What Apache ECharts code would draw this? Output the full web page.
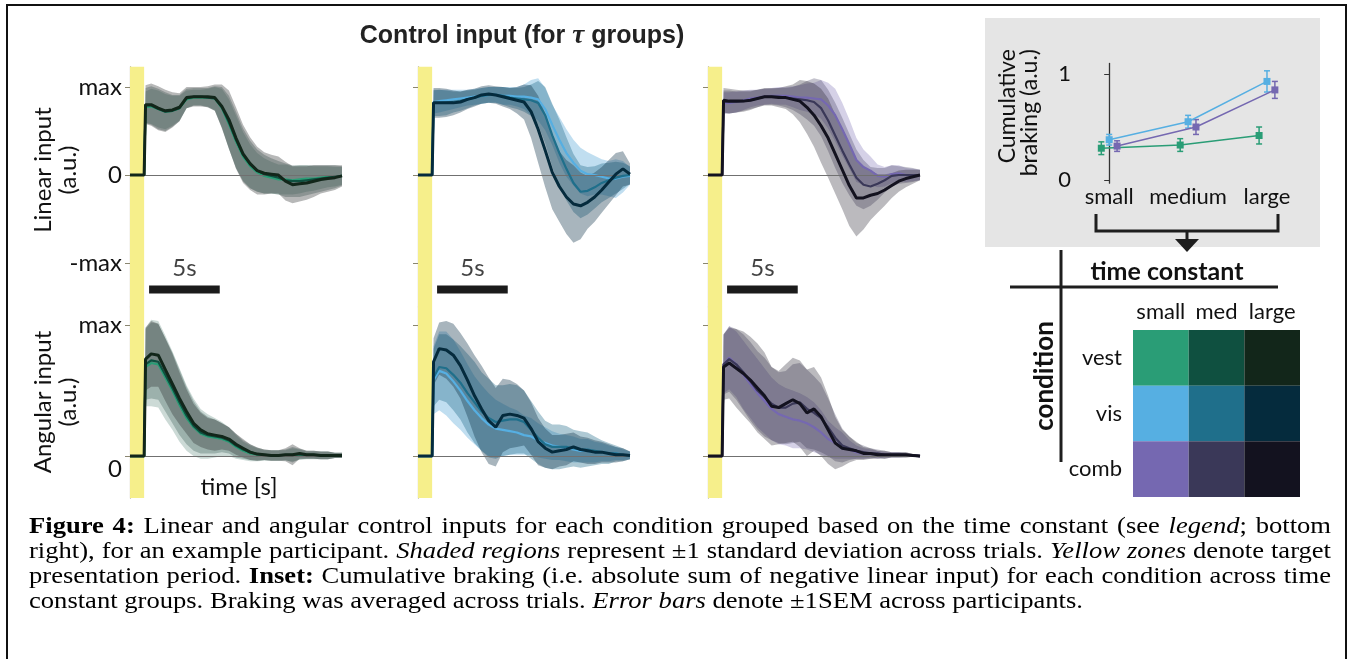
<!DOCTYPE html>
<html>
<head>
<meta charset="utf-8">
<script src="https://cdn.jsdelivr.net/npm/echarts@6/dist/echarts.min.js"></script>
<style>
  html, body { margin: 0; padding: 0; background: #fff; }
  #chart { position: absolute; left: 0; top: 0; width: 1353px; height: 659px; }
  #frame { position: absolute; left: 6px; top: 4px; width: 1341px; height: 700px;
           border: 2px solid #111; box-sizing: border-box; pointer-events: none; }
  .cap { position: absolute; left: 29px; font-family: 'Liberation Serif', 'Times New Roman', serif;
         font-size: 23px; line-height: 25px; white-space: nowrap; color: #000; transform-origin: 0 0; }
</style>
</head>
<body>
<div id="chart"></div>
<div id="frame"></div>
<div class="cap" style="top:513px" data-w="1302"><b>Figure 4:</b> Linear and angular control inputs for each condition grouped based on the time constant (see <i>legend</i>; bottom</div>
<div class="cap" style="top:538px" data-w="1302">right), for an example participant. <i>Shaded regions</i> represent ±1 standard deviation across trials. <i>Yellow zones</i> denote target</div>
<div class="cap" style="top:563px" data-w="1302">presentation period. <b>Inset:</b> Cumulative braking (i.e. absolute sum of negative linear input) for each condition across time</div>
<div class="cap" style="top:588px" data-w="1054">constant groups. Braking was averaged across trials. <i>Error bars</i> denote ±1SEM across participants.</div>
<script>
// ---------------------------------------------------------------------------
// Time base (s) shared by every trace
const T = [0, 1, 1.1, 1.5, 2, 2.5, 3, 3.5, 4, 4.5, 5, 5.5, 6, 6.5, 7, 7.5, 8, 8.5, 9, 9.5,
           10, 10.5, 11, 11.5, 12, 12.5, 13, 13.5, 14, 14.5, 15];
const TARGET_END = 1;          // target presentation period ends (s)

// Linear control input (fraction of max), mean per time-constant group
const linVestSmall = [0, 0, 0.77, 0.78, 0.75, 0.72, 0.73, 0.76, 0.86, 0.88, 0.88, 0.88, 0.87, 0.76, 0.58, 0.38, 0.21, 0.10, 0.03, -0.01, -0.03, -0.05, -0.05, -0.06, -0.05, -0.04, -0.04, -0.03, -0.02, -0.02, -0.01];
const linVestMed   = [0, 0, 0.79, 0.79, 0.75, 0.72, 0.73, 0.76, 0.87, 0.89, 0.89, 0.88, 0.87, 0.77, 0.60, 0.40, 0.23, 0.12, 0.05, 0.01, -0.01, -0.03, -0.06, -0.07, -0.07, -0.06, -0.05, -0.04, -0.03, -0.02, -0.01];
const linVestLarge = [0, 0, 0.80, 0.80, 0.76, 0.73, 0.74, 0.77, 0.88, 0.89, 0.89, 0.89, 0.88, 0.78, 0.63, 0.42, 0.24, 0.13, 0.05, 0.02, 0.01, 0.00, -0.07, -0.11, -0.10, -0.09, -0.07, -0.05, -0.04, -0.03, -0.01];
const linVisSmall  = [0, 0, 0.83, 0.84, 0.85, 0.86, 0.87, 0.88, 0.89, 0.90, 0.91, 0.91, 0.90, 0.90, 0.89, 0.89, 0.88, 0.86, 0.75, 0.57, 0.40, 0.25, 0.14, 0.05, 0.01, 0.00, -0.02, -0.04, -0.04, -0.02, -0.01];
const linVisMed    = [0, 0, 0.82, 0.82, 0.82, 0.83, 0.84, 0.86, 0.88, 0.90, 0.91, 0.91, 0.90, 0.88, 0.87, 0.86, 0.85, 0.82, 0.68, 0.45, 0.25, 0.07, -0.09, -0.19, -0.18, -0.14, -0.09, -0.06, -0.03, -0.01, 0.00];
const linVisLarge  = [0, 0, 0.82, 0.82, 0.82, 0.82, 0.83, 0.86, 0.88, 0.91, 0.92, 0.91, 0.89, 0.87, 0.85, 0.83, 0.72, 0.52, 0.28, 0.03, -0.13, -0.25, -0.33, -0.35, -0.31, -0.25, -0.17, -0.08, 0.01, 0.07, 0.01];
const linCombSmall = [0, 0, 0.82, 0.82, 0.83, 0.85, 0.87, 0.88, 0.89, 0.90, 0.90, 0.90, 0.89, 0.88, 0.88, 0.87, 0.86, 0.79, 0.68, 0.52, 0.35, 0.17, 0.09, 0.05, -0.01, -0.02, 0.01, 0.02, 0.00, 0.00, 0.00];
const linCombMed   = [0, 0, 0.83, 0.83, 0.83, 0.84, 0.85, 0.87, 0.89, 0.89, 0.89, 0.88, 0.87, 0.86, 0.85, 0.83, 0.76, 0.62, 0.45, 0.28, 0.12, -0.03, -0.11, -0.13, -0.10, -0.06, -0.01, 0.00, 0.00, 0.00, 0.00];
const linCombLarge = [0, 0, 0.85, 0.84, 0.84, 0.84, 0.85, 0.87, 0.89, 0.89, 0.88, 0.88, 0.86, 0.84, 0.77, 0.68, 0.56, 0.42, 0.24, 0.06, -0.12, -0.26, -0.26, -0.23, -0.21, -0.17, -0.12, -0.07, -0.04, -0.02, 0.00];

// Linear control input, standard deviation across trials
const sdLinVestSmall = [0, 0, 0.18, 0.20, 0.21, 0.20, 0.17, 0.14, 0.10, 0.09, 0.09, 0.10, 0.13, 0.22, 0.28, 0.30, 0.28, 0.25, 0.22, 0.20, 0.18, 0.17, 0.17, 0.16, 0.16, 0.15, 0.14, 0.13, 0.12, 0.11, 0.10];
const sdLinVestMed   = [0, 0, 0.20, 0.22, 0.23, 0.22, 0.18, 0.15, 0.11, 0.10, 0.10, 0.11, 0.14, 0.23, 0.30, 0.32, 0.30, 0.27, 0.24, 0.22, 0.20, 0.19, 0.19, 0.18, 0.18, 0.17, 0.16, 0.15, 0.14, 0.13, 0.11];
const sdLinVestLarge = [0, 0, 0.22, 0.24, 0.25, 0.24, 0.20, 0.16, 0.12, 0.11, 0.11, 0.12, 0.15, 0.25, 0.33, 0.35, 0.33, 0.30, 0.27, 0.24, 0.22, 0.21, 0.22, 0.21, 0.20, 0.19, 0.18, 0.16, 0.15, 0.14, 0.12];
const sdLinVisSmall  = [0, 0, 0.13, 0.13, 0.12, 0.11, 0.10, 0.09, 0.09, 0.09, 0.09, 0.09, 0.10, 0.10, 0.11, 0.14, 0.20, 0.24, 0.24, 0.23, 0.26, 0.27, 0.26, 0.26, 0.25, 0.22, 0.20, 0.20, 0.22, 0.18, 0.10];
const sdLinVisMed    = [0, 0, 0.15, 0.15, 0.14, 0.12, 0.11, 0.10, 0.09, 0.09, 0.09, 0.09, 0.10, 0.11, 0.12, 0.14, 0.18, 0.25, 0.32, 0.36, 0.38, 0.36, 0.33, 0.30, 0.27, 0.24, 0.22, 0.20, 0.18, 0.15, 0.10];
const sdLinVisLarge  = [0, 0, 0.17, 0.17, 0.16, 0.14, 0.12, 0.11, 0.10, 0.10, 0.10, 0.10, 0.11, 0.12, 0.15, 0.20, 0.30, 0.38, 0.42, 0.42, 0.40, 0.42, 0.44, 0.38, 0.30, 0.28, 0.26, 0.25, 0.24, 0.20, 0.12];
const sdLinCombSmall = [0, 0, 0.12, 0.12, 0.12, 0.11, 0.10, 0.09, 0.09, 0.09, 0.10, 0.10, 0.12, 0.14, 0.16, 0.18, 0.22, 0.26, 0.30, 0.30, 0.28, 0.25, 0.20, 0.16, 0.13, 0.11, 0.10, 0.09, 0.08, 0.07, 0.06];
const sdLinCombMed   = [0, 0, 0.13, 0.13, 0.12, 0.11, 0.10, 0.10, 0.09, 0.09, 0.10, 0.11, 0.13, 0.17, 0.22, 0.27, 0.32, 0.35, 0.37, 0.37, 0.35, 0.32, 0.28, 0.22, 0.18, 0.14, 0.12, 0.10, 0.09, 0.08, 0.06];
const sdLinCombLarge = [0, 0, 0.14, 0.14, 0.13, 0.12, 0.11, 0.10, 0.10, 0.10, 0.11, 0.13, 0.17, 0.24, 0.30, 0.36, 0.42, 0.45, 0.45, 0.45, 0.46, 0.44, 0.36, 0.28, 0.22, 0.18, 0.14, 0.12, 0.10, 0.08, 0.06];

// Angular control input (fraction of max), mean per time-constant group
const angVestSmall = [0, 0, 0.68, 0.71, 0.70, 0.60, 0.50, 0.39, 0.29, 0.22, 0.17, 0.15, 0.14, 0.13, 0.11, 0.07, 0.04, 0.02, 0.01, 0.005, 0.005, 0.005, 0.005, 0.01, 0.01, 0.005, 0.005, 0.005, 0.005, 0.005, 0.005];
const angVestMed   = [0, 0, 0.70, 0.73, 0.72, 0.62, 0.52, 0.41, 0.31, 0.23, 0.18, 0.16, 0.15, 0.14, 0.12, 0.08, 0.05, 0.03, 0.015, 0.01, 0.005, 0.005, 0.01, 0.01, 0.015, 0.01, 0.01, 0.005, 0.005, 0.005, 0.005];
const angVestLarge = [0, 0, 0.74, 0.78, 0.77, 0.66, 0.55, 0.44, 0.34, 0.25, 0.20, 0.17, 0.16, 0.15, 0.13, 0.09, 0.06, 0.03, 0.015, 0.01, 0.005, 0.005, 0.01, 0.01, 0.02, 0.01, 0.01, 0.005, 0.005, 0.005, 0.005];
const angVisSmall  = [0, 0, 0.58, 0.65, 0.63, 0.57, 0.50, 0.42, 0.35, 0.29, 0.24, 0.21, 0.20, 0.19, 0.18, 0.16, 0.15, 0.12, 0.10, 0.08, 0.07, 0.06, 0.05, 0.04, 0.04, 0.03, 0.03, 0.02, 0.02, 0.01, 0.005];
const angVisMed    = [0, 0, 0.60, 0.68, 0.67, 0.62, 0.56, 0.48, 0.41, 0.34, 0.29, 0.26, 0.27, 0.28, 0.28, 0.26, 0.20, 0.14, 0.09, 0.07, 0.07, 0.07, 0.06, 0.05, 0.05, 0.04, 0.03, 0.02, 0.02, 0.01, 0.005];
const angVisLarge  = [0, 0, 0.72, 0.82, 0.81, 0.77, 0.69, 0.58, 0.46, 0.36, 0.27, 0.22, 0.31, 0.32, 0.31, 0.29, 0.21, 0.11, 0.06, 0.03, 0.04, 0.05, 0.07, 0.05, 0.04, 0.03, 0.03, 0.02, 0.01, 0.01, 0.005];
const angCombSmall = [0, 0, 0.70, 0.75, 0.70, 0.62, 0.55, 0.48, 0.42, 0.36, 0.32, 0.30, 0.28, 0.27, 0.25, 0.22, 0.18, 0.13, 0.10, 0.08, 0.05, 0.03, 0.02, 0.02, 0.01, 0.01, 0.01, 0.01, 0.005, 0.005, 0.00];
const angCombMed   = [0, 0, 0.70, 0.74, 0.70, 0.64, 0.57, 0.50, 0.45, 0.40, 0.37, 0.37, 0.40, 0.41, 0.36, 0.33, 0.29, 0.22, 0.14, 0.08, 0.06, 0.04, 0.03, 0.02, 0.02, 0.01, 0.01, 0.01, 0.01, 0.005, 0.00];
const angCombLarge = [0, 0, 0.68, 0.71, 0.67, 0.63, 0.58, 0.52, 0.46, 0.38, 0.37, 0.40, 0.43, 0.40, 0.33, 0.36, 0.30, 0.20, 0.10, 0.06, 0.05, 0.04, 0.02, 0.02, 0.01, 0.01, 0.01, 0.01, 0.01, 0.005, 0.00];

// Angular control input, standard deviation across trials
const sdAngVestSmall = [0, 0, 0.30, 0.33, 0.33, 0.32, 0.30, 0.28, 0.25, 0.22, 0.19, 0.17, 0.15, 0.13, 0.11, 0.09, 0.07, 0.06, 0.05, 0.04, 0.04, 0.04, 0.04, 0.05, 0.04, 0.03, 0.03, 0.03, 0.03, 0.02, 0.02];
const sdAngVestMed   = [0, 0, 0.27, 0.29, 0.29, 0.28, 0.27, 0.25, 0.22, 0.19, 0.16, 0.14, 0.13, 0.11, 0.10, 0.09, 0.07, 0.06, 0.05, 0.04, 0.04, 0.04, 0.04, 0.06, 0.04, 0.03, 0.03, 0.03, 0.03, 0.02, 0.02];
const sdAngVestLarge = [0, 0, 0.24, 0.25, 0.24, 0.24, 0.23, 0.20, 0.17, 0.15, 0.13, 0.12, 0.12, 0.10, 0.09, 0.08, 0.07, 0.06, 0.05, 0.04, 0.04, 0.04, 0.05, 0.08, 0.04, 0.03, 0.03, 0.03, 0.03, 0.02, 0.02];
const sdAngVisSmall  = [0, 0, 0.26, 0.30, 0.32, 0.32, 0.30, 0.28, 0.26, 0.25, 0.24, 0.22, 0.20, 0.18, 0.17, 0.15, 0.14, 0.13, 0.12, 0.11, 0.10, 0.10, 0.10, 0.09, 0.09, 0.08, 0.07, 0.06, 0.05, 0.04, 0.03];
const sdAngVisMed    = [0, 0, 0.22, 0.25, 0.26, 0.27, 0.28, 0.30, 0.31, 0.30, 0.30, 0.28, 0.27, 0.27, 0.26, 0.24, 0.22, 0.20, 0.18, 0.17, 0.17, 0.16, 0.14, 0.14, 0.13, 0.11, 0.09, 0.08, 0.06, 0.05, 0.03];
const sdAngVisLarge  = [0, 0, 0.18, 0.20, 0.22, 0.24, 0.25, 0.28, 0.31, 0.33, 0.33, 0.30, 0.28, 0.26, 0.24, 0.21, 0.20, 0.18, 0.15, 0.13, 0.12, 0.12, 0.11, 0.10, 0.10, 0.09, 0.08, 0.07, 0.06, 0.05, 0.03];
const sdAngCombSmall = [0, 0, 0.22, 0.24, 0.25, 0.26, 0.26, 0.26, 0.25, 0.24, 0.23, 0.22, 0.22, 0.21, 0.20, 0.19, 0.17, 0.14, 0.12, 0.10, 0.07, 0.05, 0.04, 0.03, 0.03, 0.02, 0.02, 0.02, 0.01, 0.01, 0.01];
const sdAngCombMed   = [0, 0, 0.23, 0.25, 0.27, 0.29, 0.30, 0.30, 0.30, 0.28, 0.27, 0.28, 0.30, 0.30, 0.30, 0.28, 0.26, 0.22, 0.18, 0.13, 0.09, 0.06, 0.05, 0.04, 0.03, 0.03, 0.02, 0.02, 0.02, 0.01, 0.01];
const sdAngCombLarge = [0, 0, 0.25, 0.27, 0.30, 0.32, 0.33, 0.34, 0.33, 0.30, 0.28, 0.30, 0.32, 0.33, 0.33, 0.32, 0.30, 0.26, 0.20, 0.14, 0.10, 0.07, 0.05, 0.04, 0.03, 0.03, 0.02, 0.02, 0.02, 0.01, 0.01];

// Tick labels of the trace panels
const LINEAR_TICKS = [-1, 0, 1];
const LINEAR_TICK_LABELS = ['-max', '0', 'max'];
const ANGULAR_TICKS = [0, 1];
const ANGULAR_TICK_LABELS = ['0', 'max'];

// Inset: cumulative braking (a.u.), mean and SEM across participants
const INSET_CATEGORIES = ['small', 'medium', 'large'];
const brakeVest = [0.30, 0.33, 0.42];
const semVest   = [0.06, 0.06, 0.08];
const brakeVis  = [0.38, 0.55, 0.93];
const semVis    = [0.05, 0.06, 0.10];
const brakeComb = [0.32, 0.50, 0.85];
const semComb   = [0.05, 0.07, 0.08];
const BRAKE_TICKS = [0, 1];

// Legend grid
const TAU_LABELS = ['small', 'med', 'large'];
const CONDITION_LABELS = ['vest', 'vis', 'comb'];

// ---------------------------------------------------------------------------
const CONDITIONS = ['vest', 'vis', 'comb'];
const PALETTE = {
  vest: ['#2a9d76', '#0f5040', '#12261a'],
  vis:  ['#56afe2', '#1f6f8b', '#052b3d'],
  comb: ['#7568b1', '#3a3858', '#13121f']
};
// translucent fills of the ±1 SD bands
const BAND = {
  vest: { colors: ['#6a9486', '#40605a', '#2b2f2e'], opacity: 0.34 },
  vis:  { colors: ['#4fa3d6', '#1f6a88', '#0d3347'], opacity: 0.36 },
  comb: { colors: ['#7568b1', '#3a3858', '#1d1b29'], opacity: 0.3 }
};
const LINEAR = { vest: [linVestSmall, linVestMed, linVestLarge], vis: [linVisSmall, linVisMed, linVisLarge], comb: [linCombSmall, linCombMed, linCombLarge] };
const LINEAR_SD = { vest: [sdLinVestSmall, sdLinVestMed, sdLinVestLarge], vis: [sdLinVisSmall, sdLinVisMed, sdLinVisLarge], comb: [sdLinCombSmall, sdLinCombMed, sdLinCombLarge] };
const ANGULAR = { vest: [angVestSmall, angVestMed, angVestLarge], vis: [angVisSmall, angVisMed, angVisLarge], comb: [angCombSmall, angCombMed, angCombLarge] };
const ANGULAR_SD = { vest: [sdAngVestSmall, sdAngVestMed, sdAngVestLarge], vis: [sdAngVisSmall, sdAngVisMed, sdAngVisLarge], comb: [sdAngCombSmall, sdAngCombMed, sdAngCombLarge] };
const BRAKE = { vest: brakeVest, vis: brakeVis, comb: brakeComb };
const SEM = { vest: semVest, vis: semVis, comb: semComb };

[LINEAR, LINEAR_SD, ANGULAR, ANGULAR_SD].forEach(group => CONDITIONS.forEach(c => group[c].forEach(a => {
  if (a.length !== T.length) throw new Error('trace length ' + a.length + ' for ' + c);
})));

const SANS = 'Lato, "Open Sans", sans-serif';
const PANEL_X = [130, 418, 708];
const PANEL_W = 212;
const SCALE_BAR = { start: 1.35, length: 5, y: -1.30, labelY: -1.06, label: '5s' };
const INSET_OFFSET = { vest: -0.1, vis: 0, comb: 0.1 };

const grid = [], xAxis = [], yAxis = [], series = [];

function bandSeries(gi, mean, sd, color, opacity) {
  const hi = mean.map((m, i) => m + sd[i]);
  const lo = mean.map((m, i) => m - sd[i]);
  return {
    type: 'custom', xAxisIndex: gi, yAxisIndex: gi, z: 1, silent: true, clip: true,
    data: [[T[0], mean[0]]],
    renderItem: (params, api) => {
      const pts = T.map((t, i) => api.coord([t, hi[i]]));
      for (let i = T.length - 1; i >= 0; i--) pts.push(api.coord([T[i], lo[i]]));
      return { type: 'polygon', shape: { points: pts }, style: { fill: color, opacity } };
    }
  };
}

function addPanel(kind, p) {
  const cond = CONDITIONS[p];
  const lin = kind === 'linear';
  const gi = grid.length;
  const ticks = lin ? LINEAR_TICKS : ANGULAR_TICKS;
  const names = lin ? LINEAR_TICK_LABELS : ANGULAR_TICK_LABELS;
  grid.push({ left: PANEL_X[p], width: PANEL_W, top: lin ? 66.8 : 306.7, height: lin ? 240.2 : 191.3 });
  xAxis.push({ gridIndex: gi, type: 'value', min: 0, max: T[T.length - 1], show: false });
  yAxis.push({
    gridIndex: gi, type: 'value', min: lin ? -1.5 : -0.32, max: lin ? 1.23 : 1.14,
    axisLine: { show: true, lineStyle: { color: '#a39e84', width: 1.2 } },
    axisTick: { show: true, customValues: ticks, length: 5, lineStyle: { color: '#8a8670' } },
    axisLabel: {
      show: p === 0, customValues: ticks, margin: 8, fontFamily: SANS, fontSize: 24, color: '#111',
      formatter: v => {
        const s = names[ticks.indexOf(v)];
        return (!lin && v === 0) ? '{low|' + s + '}' : s;
      },
      rich: { low: { padding: [26, 0, 0, 0], fontFamily: SANS, fontSize: 24, color: '#111' } }
    },
    splitLine: { show: false }
  });
  // target presentation zone
  series.push({ type: 'line', xAxisIndex: gi, yAxisIndex: gi, data: [[0, 0]], symbol: 'none', z: 0, silent: true,
    markArea: { silent: true, itemStyle: { color: '#f6ef8b' }, data: [[{ xAxis: 0 }, { xAxis: TARGET_END }]] } });
  const means = lin ? LINEAR[cond] : ANGULAR[cond];
  const sds = lin ? LINEAR_SD[cond] : ANGULAR_SD[cond];
  means.forEach((m, k) => series.push(bandSeries(gi, m, sds[k], BAND[cond].colors[k], BAND[cond].opacity)));
  // zero reference
  series.push({ type: 'line', xAxisIndex: gi, yAxisIndex: gi, data: [[0, 0]], symbol: 'none', z: 3, silent: true,
    markLine: { silent: true, symbol: 'none', label: { show: false }, animation: false,
      lineStyle: { color: '#707070', width: 1.2, type: 'solid' }, data: [{ yAxis: 0 }] } });
  means.forEach((m, k) => series.push({
    type: 'line', xAxisIndex: gi, yAxisIndex: gi, z: 4 + k, silent: true, symbol: 'none', clip: true,
    data: T.map((t, i) => [t, m[i]]),
    lineStyle: { color: PALETTE[cond][k], width: k === 2 ? 3 : 2.2 }
  }));
  if (lin) {
    series.push({ type: 'line', xAxisIndex: gi, yAxisIndex: gi, z: 8, silent: true, symbol: 'none',
      data: [[SCALE_BAR.start, SCALE_BAR.y], [SCALE_BAR.start + SCALE_BAR.length, SCALE_BAR.y]],
      lineStyle: { color: '#1b1b1b', width: 8, cap: 'butt' } });
    series.push({ type: 'scatter', xAxisIndex: gi, yAxisIndex: gi, z: 8, silent: true, symbolSize: 1,
      itemStyle: { color: 'transparent' },
      data: [[SCALE_BAR.start + SCALE_BAR.length / 2, SCALE_BAR.labelY]],
      label: { show: true, position: 'inside', formatter: SCALE_BAR.label, fontFamily: SANS, fontSize: 24, color: '#111' } });
  }
}

[0, 1, 2].forEach(p => addPanel('linear', p));
[0, 1, 2].forEach(p => addPanel('angular', p));

// Inset: cumulative braking
const INSET = grid.length;
grid.push({ left: 1080, top: 63.4, width: 214.6, height: 119.8 });
xAxis.push({ gridIndex: INSET, type: 'value', min: -0.37, max: 2.35,
  axisLine: { show: false }, axisTick: { show: false }, splitLine: { show: false },
  axisLabel: { customValues: [0, 1, 2], formatter: v => INSET_CATEGORIES[Math.round(v)], margin: 3,
    fontFamily: SANS, fontSize: 22, color: '#111' } });
yAxis.push({ gridIndex: INSET, type: 'value', min: -0.03, max: 1.1,
  axisLine: { show: true, lineStyle: { color: '#333', width: 1.3 } },
  axisTick: { show: true, customValues: BRAKE_TICKS, length: 5, lineStyle: { color: '#333' } },
  axisLabel: { customValues: BRAKE_TICKS, margin: 9, fontFamily: SANS, fontSize: 22, color: '#111' },
  splitLine: { show: false } });
CONDITIONS.forEach(c => {
  const color = PALETTE[c][0];
  const off = INSET_OFFSET[c];
  series.push({ type: 'line', xAxisIndex: INSET, yAxisIndex: INSET, z: 5, silent: true,
    data: BRAKE[c].map((v, i) => [i + off, v]),
    symbol: 'rect', symbolSize: 7, itemStyle: { color }, lineStyle: { color, width: 1.5 } });
  series.push({ type: 'custom', xAxisIndex: INSET, yAxisIndex: INSET, z: 5, silent: true,
    data: BRAKE[c].map((v, i) => [i + off, v - SEM[c][i], v + SEM[c][i]]),
    encode: { x: 0, y: [1, 2] },
    renderItem: (params, api) => {
      const x = api.value(0);
      const a = api.coord([x, api.value(1)]);
      const b = api.coord([x, api.value(2)]);
      const st = { stroke: color, lineWidth: 1.5 };
      return { type: 'group', children: [
        { type: 'line', shape: { x1: a[0], y1: a[1], x2: b[0], y2: b[1] }, style: st },
        { type: 'line', shape: { x1: a[0] - 3, y1: a[1], x2: a[0] + 3, y2: a[1] }, style: st },
        { type: 'line', shape: { x1: b[0] - 3, y1: b[1], x2: b[0] + 3, y2: b[1] }, style: st }
      ] };
    } });
});

// Legend grid: condition x time constant colours
const LEGEND = grid.length;
grid.push({ left: 1133, top: 330, width: 167, height: 167 });
xAxis.push({ gridIndex: LEGEND, type: 'category', data: TAU_LABELS, position: 'top',
  axisLine: { show: false }, axisTick: { show: false },
  axisLabel: { interval: 0, margin: 7, fontFamily: SANS, fontSize: 22, color: '#111' } });
yAxis.push({ gridIndex: LEGEND, type: 'category', data: CONDITION_LABELS, inverse: true,
  axisLine: { show: false }, axisTick: { show: false },
  axisLabel: { interval: 0, margin: 11, fontFamily: SANS, fontSize: 22, color: '#111' } });
const cells = [];
CONDITION_LABELS.forEach((_, r) => TAU_LABELS.forEach((__, c) => cells.push([c, r])));
series.push({ type: 'custom', xAxisIndex: LEGEND, yAxisIndex: LEGEND, silent: true, data: cells,
  renderItem: (params, api) => {
    const c = api.coord([api.value(0), api.value(1)]);
    const s = api.size([1, 1]);
    return { type: 'rect', shape: { x: c[0] - s[0] / 2, y: c[1] - s[1] / 2, width: s[0], height: s[1] },
      style: { fill: PALETTE[CONDITIONS[api.value(1)]][api.value(0)] } };
  } });

const INK = '#1e1e1e';
const graphic = [
  { type: 'rect', z: -10, silent: true, shape: { x: 985, y: 18, width: 335, height: 229 }, style: { fill: '#e5e5e5' } },
  { type: 'text', x: 522, y: 36, silent: true, style: {
      text: '{a|Control input (for }{b|τ}{a| groups)}', align: 'center', verticalAlign: 'middle',
      rich: {
        a: { fontFamily: '"Liberation Sans", Arial, sans-serif', fontWeight: 'bold', fontSize: 25, fill: '#222' },
        b: { fontFamily: '"Liberation Serif", serif', fontWeight: 'bold', fontStyle: 'italic', fontSize: 27, fill: '#222' }
      } } },
  { type: 'text', x: 56, y: 170, rotation: Math.PI / 2, silent: true, style: {
      text: 'Linear input\n(a.u.)', fontFamily: SANS, fontSize: 24, lineHeight: 25, fill: '#111', align: 'center', verticalAlign: 'middle' } },
  { type: 'text', x: 56, y: 402, rotation: Math.PI / 2, silent: true, style: {
      text: 'Angular input\n(a.u.)', fontFamily: SANS, fontSize: 24, lineHeight: 25, fill: '#111', align: 'center', verticalAlign: 'middle' } },
  { type: 'text', x: 239, y: 487, silent: true, style: {
      text: 'time [s]', fontFamily: SANS, fontSize: 24, fill: '#111', align: 'center', verticalAlign: 'middle' } },
  { type: 'text', x: 1019, y: 49, rotation: Math.PI / 2, silent: true, style: {
      text: 'Cumulative\nbraking (a.u.)', fontFamily: SANS, fontSize: 23, lineHeight: 22, fill: '#111', align: 'right', verticalAlign: 'middle' } },
  { type: 'polyline', silent: true, shape: { points: [[1096, 214], [1096, 231], [1278, 231], [1278, 214]] }, style: { stroke: INK, lineWidth: 3, fill: null } },
  { type: 'line', silent: true, shape: { x1: 1187, y1: 231, x2: 1187, y2: 241 }, style: { stroke: INK, lineWidth: 3 } },
  { type: 'polygon', silent: true, shape: { points: [[1175, 239], [1199, 239], [1187, 252]] }, style: { fill: INK } },
  { type: 'line', silent: true, shape: { x1: 1061, y1: 250, x2: 1061, y2: 462 }, style: { stroke: INK, lineWidth: 3 } },
  { type: 'line', silent: true, shape: { x1: 1010, y1: 287, x2: 1278, y2: 287 }, style: { stroke: INK, lineWidth: 3 } },
  { type: 'text', x: 1167, y: 272, silent: true, style: {
      text: 'time constant', fontFamily: SANS, fontWeight: 'bold', fontSize: 25, fill: '#111', align: 'center', verticalAlign: 'middle' } },
  { type: 'text', x: 1045, y: 376, rotation: Math.PI / 2, silent: true, style: {
      text: 'condition', fontFamily: SANS, fontWeight: 'bold', fontSize: 26, fill: '#111', align: 'center', verticalAlign: 'middle' } }
];

const chart = echarts.init(document.getElementById('chart'), null, { renderer: 'canvas' });
chart.setOption({ animation: false, backgroundColor: 'transparent', grid, xAxis, yAxis, series, graphic });

// Caption: common horizontal stretch from the last line, justified lines via word spacing
function fitCaption() {
  const lines = Array.from(document.querySelectorAll('.cap'));
  lines.forEach(l => { l.style.transform = 'none'; l.style.wordSpacing = '0px'; });
  const last = lines[lines.length - 1];
  const s = (+last.dataset.w) / last.getBoundingClientRect().width;
  lines.forEach(l => {
    const natural = l.getBoundingClientRect().width;
    const target = (+l.dataset.w) / s;
    const spaces = (l.textContent.match(/ /g) || []).length;
    if (spaces && Math.abs(target - natural) > 0.5) l.style.wordSpacing = ((target - natural) / spaces) + 'px';
    l.style.transform = 'scaleX(' + s + ')';
  });
}
fitCaption();
if (document.fonts && document.fonts.ready) document.fonts.ready.then(fitCaption);
</script>
</body>
</html>
